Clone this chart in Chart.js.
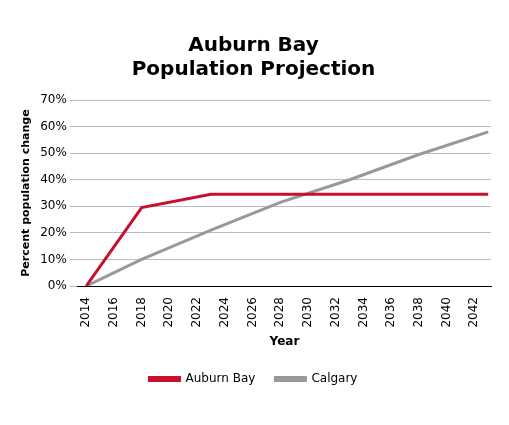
<!DOCTYPE html>
<html><head>
<script src="https://cdn.jsdelivr.net/npm/chart.js@4"></script>
<style>body{margin:0;background:#fff}#wrap{width:509px;height:425px}</style>
</head><body>
<div id="wrap"><canvas id="c"></canvas></div>
<script>
const years = [2014, 2018, 2023, 2028, 2033, 2038, 2043];
const auburnBay = [0, 29.5, 34.5, 34.5, 34.5, 34.5, 34.5];
const calgary = [0, 10, 21, 31.5, 40, 49.5, 58];
const tickYears = [2014, 2016, 2018, 2020, 2022, 2024, 2026, 2028, 2030, 2032, 2034, 2036, 2038, 2040, 2042];

const toPts = vals => years.map((y, i) => ({ x: y, y: vals[i] }));

new Chart(document.getElementById('c'), {
  type: 'line',
  data: {
    datasets: [
      { label: 'Auburn Bay', data: toPts(auburnBay), borderColor: '#c8102e', backgroundColor: '#c8102e', borderWidth: 3, pointRadius: 0, tension: 0 },
      { label: 'Calgary', data: toPts(calgary), borderColor: '#999999', backgroundColor: '#999999', borderWidth: 3, pointRadius: 0, tension: 0 }
    ]
  },
  options: {
    responsive: true,
    maintainAspectRatio: false,
    animation: false,
    layout: { padding: { left: 16, right: 18, top: 34, bottom: 30 } },
    plugins: {
      title: { display: true, text: ['Auburn Bay', 'Population Projection'], color: '#000', font: { family: 'DejaVu Sans', size: 20, weight: 'bold' }, padding: { bottom: 18 } },
      legend: { position: 'bottom', labels: { boxWidth: 30, boxHeight: 3, color: '#000', font: { family: 'DejaVu Sans', size: 12 }, padding: 20 } }
    },
    scales: {
      x: {
        type: 'linear', min: 2013.4, max: 2043.2,
        afterBuildTicks: axis => { axis.ticks = tickYears.map(v => ({ value: v })); },
        ticks: { maxRotation: 90, minRotation: 90, color: '#000', font: { family: 'DejaVu Sans', size: 12 }, callback: v => String(v) },
        grid: { display: false },
        border: { color: '#000', width: 1 },
        title: { display: true, text: 'Year', color: '#000', font: { family: 'DejaVu Sans', size: 12, weight: 'bold' } }
      },
      y: {
        min: 0, max: 70,
        ticks: { stepSize: 10, color: '#000', font: { family: 'DejaVu Sans', size: 12 }, callback: v => v + '%' },
        grid: { color: '#bbbbbb' },
        border: { display: false },
        title: { display: true, text: 'Percent population change', color: '#000', font: { family: 'DejaVu Sans', size: 11, weight: 'bold' } }
      }
    }
  }
});
</script>
</body></html>
